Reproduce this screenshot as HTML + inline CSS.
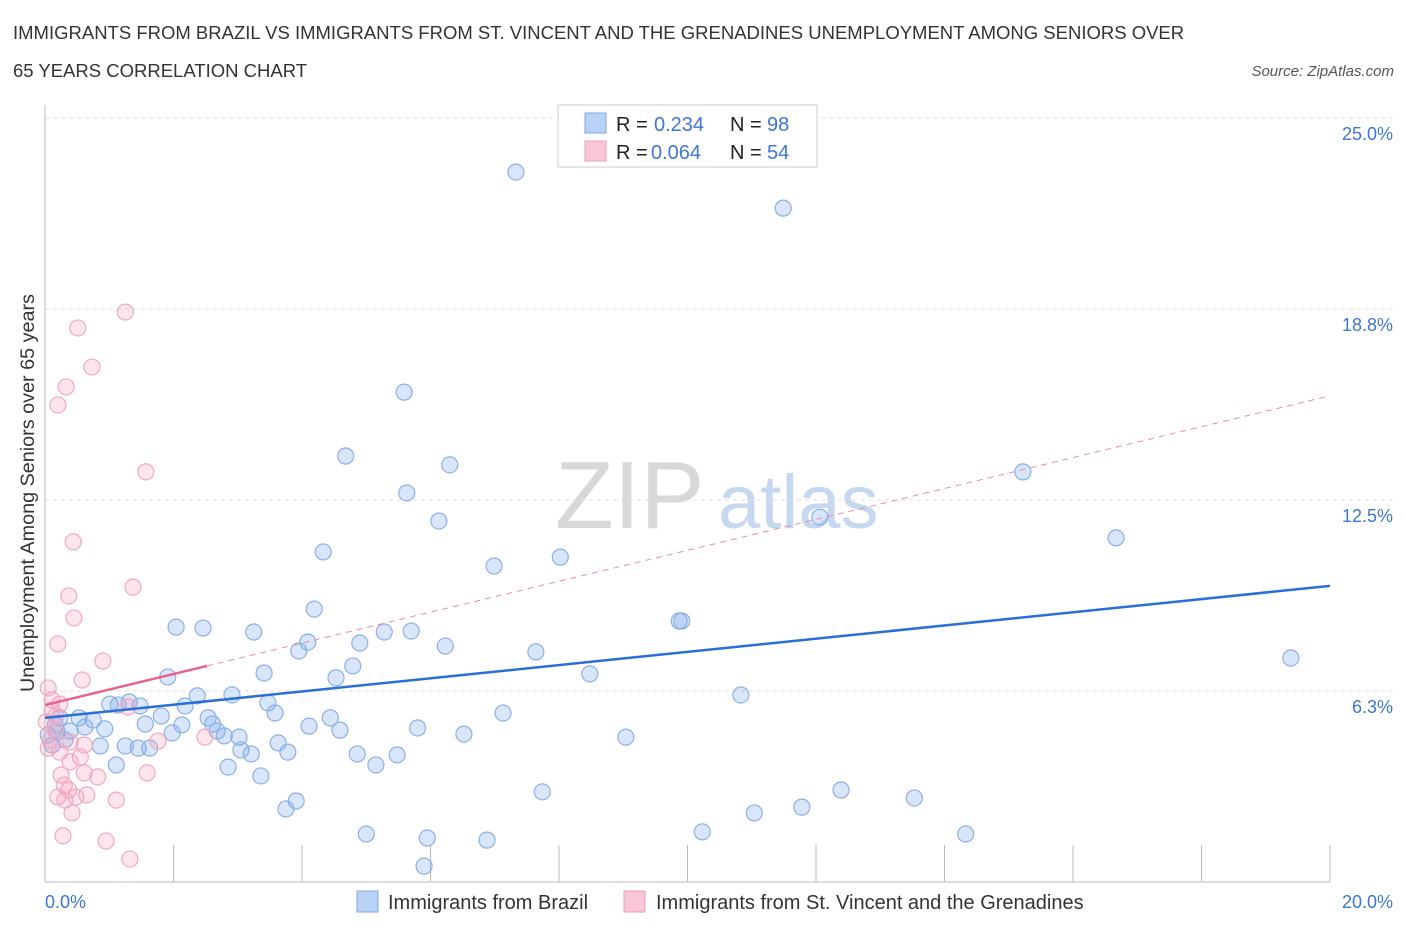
<!DOCTYPE html>
<html><head><meta charset="utf-8"><style>
body{margin:0;background:#fff;font-family:"Liberation Sans",sans-serif;}
svg text{font-family:"Liberation Sans",sans-serif;}
</style></head><body>
<svg id="chart" width="1406" height="930" xmlns="http://www.w3.org/2000/svg">
<text x="13" y="39" font-size="18.5" fill="#333">IMMIGRANTS FROM BRAZIL VS IMMIGRANTS FROM ST. VINCENT AND THE GRENADINES UNEMPLOYMENT AMONG SENIORS OVER</text>
<text x="13" y="77" font-size="18.5" fill="#333">65 YEARS CORRELATION CHART</text>
<text x="1394" y="76" font-size="15" font-style="italic" fill="#555" text-anchor="end">Source: ZipAtlas.com</text>
<g>
<text x="555" y="528" font-size="96" font-family="Liberation Serif" fill="#d8d8d8">ZIP</text>
<text x="718" y="528" font-size="76" fill="#c5d8f0">atlas</text>
</g>
<g id="grid"></g>
<g id="axes"></g>
<g id="marks"></g>
<text transform="translate(34,493) rotate(-90)" font-size="19.8" fill="#333" text-anchor="middle">Unemployment Among Seniors over 65 years</text>
<g>
<rect x="558" y="105" width="259" height="62" fill="#fff" stroke="#ccc"/>
<rect x="585" y="113" width="21" height="20" fill="#b8d1f5" stroke="#7fa6e3"/>
<rect x="585" y="141" width="21" height="20" fill="#f9c6d5" stroke="#ee9fb8"/>
<text x="616" y="131" font-size="20" fill="#222">R = </text><text x="654" y="131" font-size="20" fill="#3d76d6">0.234</text>
<text x="730" y="131" font-size="20" fill="#222">N = </text><text x="767" y="131" font-size="20" fill="#3d76d6">98</text>
<text x="616" y="159" font-size="20" fill="#222">R = </text><text x="651" y="159" font-size="20" fill="#3d76d6">0.064</text>
<text x="730" y="159" font-size="20" fill="#222">N = </text><text x="767" y="159" font-size="20" fill="#3d76d6">54</text>
</g>
<g>
<rect x="357" y="891" width="21" height="21" fill="#b8d1f5" stroke="#7fa6e3"/>
<text x="388" y="909" font-size="20" fill="#333">Immigrants from Brazil</text>
<rect x="624" y="891" width="21" height="21" fill="#f9c6d5" stroke="#ee9fb8"/>
<text x="656" y="909" font-size="20" fill="#333">Immigrants from St. Vincent and the Grenadines</text>
</g>
</svg>
<script>
const yTicks=[6.25,12.5,18.75,25];
const yTickLabels=["6.3%","12.5%","18.8%","25.0%"];
const xTickLabels=["0.0%","20.0%"];
const brazilX=[7.33,11.49,5.59,4.68,6.30,15.22,5.63,6.13,12.06,16.67,4.33,8.02,6.99,4.19,9.87,9.91,2.04,2.46,3.25,5.28,5.70,4.09,4.90,6.23,3.95,7.64,19.39,4.79,3.41,8.48,1.91,4.53,10.83,2.91,2.37,3.47,1.01,1.31,1.48,2.18,1.14,7.13,3.58,1.81,2.54,4.44,0.53,0.75,1.56,2.13,2.61,4.11,4.59,5.80,2.68,0.93,0.39,0.19,0.62,1.98,2.79,3.02,6.52,9.04,3.63,1.25,0.86,1.45,1.63,4.86,3.05,3.78,5.48,3.21,5.15,1.11,2.85,3.36,7.74,12.39,13.53,3.91,3.75,11.78,11.04,10.23,5.00,5.95,6.88,14.33,5.90,0.11,0.23,0.05,0.31,0.16];
const brazilY=[23.23,22.05,16.03,13.94,13.65,13.42,12.73,11.81,11.94,11.26,10.80,10.63,10.34,8.93,8.54,8.54,8.34,8.31,8.18,8.18,8.21,7.85,7.82,7.72,7.56,7.53,7.33,7.07,6.84,6.81,6.71,6.68,6.12,6.12,6.09,5.86,5.82,5.89,5.76,5.76,5.79,5.53,5.53,5.43,5.37,5.37,5.37,5.30,5.17,5.14,5.17,5.10,4.97,5.04,4.94,5.01,4.94,4.91,5.07,4.88,4.78,4.74,4.84,4.74,4.55,4.45,4.45,4.38,4.38,4.19,4.32,4.25,4.16,4.19,3.83,3.83,3.76,3.47,2.95,3.01,2.75,2.65,2.39,2.45,2.26,1.64,1.57,1.44,1.37,1.57,0.52,4.48,5.37,4.81,4.65,5.14];
const vincentX=[1.25,0.51,0.73,0.33,0.20,1.57,0.44,1.37,0.37,0.45,0.20,0.90,0.58,0.05,0.23,0.11,1.29,0.02,0.16,0.08,0.39,0.61,1.76,2.49,0.05,0.23,0.55,0.39,0.25,0.61,0.82,1.59,0.30,0.37,0.20,0.48,0.65,0.31,1.11,0.42,0.28,0.95,1.32,0.11,0.17];
const vincentY=[18.65,18.13,16.85,16.20,15.61,13.42,11.13,9.65,9.36,8.64,7.79,7.23,6.61,6.35,5.82,5.63,5.73,5.24,4.97,4.65,4.58,4.48,4.61,4.74,4.38,4.25,4.09,3.93,3.50,3.57,3.44,3.57,3.17,3.01,2.78,2.78,2.85,2.68,2.68,2.26,1.51,1.34,0.75,5.96,5.43];
const brazilTrend=[5.37,9.69];
const vincentTrend=[5.79,7.07,15.87];
const vincentTrendX=[0,2.52,19.92];

const X0=45,X1=1330,Y0=882,Y1=118;
const xs=v=>X0+(v/20)*(X1-X0);
const ys=v=>Y0-(v/25)*(Y0-Y1);
const NS="http://www.w3.org/2000/svg";
function mk(tag,attrs,parent){const e=document.createElementNS(NS,tag);for(const k in attrs)e.setAttribute(k,attrs[k]);parent.appendChild(e);return e;}
const grid=document.getElementById('grid'),axes=document.getElementById('axes'),marks=document.getElementById('marks');
yTicks.forEach((t,i)=>{
  const l=mk('line',{x1:X0,x2:1395,y1:ys(t),y2:ys(t),stroke:'#ddd','stroke-dasharray':'4,4'},grid);
  
  
  const tx=mk('text',{x:1393,y:ys(t)+22,'font-size':18,fill:'#3d76d6','text-anchor':'end'},axes);
  tx.textContent=yTickLabels[i];
  
  
});
const ax=mk('line',{x1:X0,x2:X1,y1:Y0,y2:Y0,stroke:'#bbb'},axes);


const ay=mk('line',{x1:X0,x2:X0,y1:105,y2:Y0,stroke:'#bbb'},axes);


for(let i=0;i<=10;i++){
  const t=mk('line',{x1:xs(i*2),x2:xs(i*2),y1:Y0,y2:Y0-37,stroke:'#bbb'},axes);
  
  
}
const xl0=mk('text',{x:X0,y:908,'font-size':18,fill:'#3d76d6'},axes);xl0.textContent=xTickLabels[0];


const xl1=mk('text',{x:1393,y:908,'font-size':18,fill:'#3d76d6','text-anchor':'end'},axes);xl1.textContent=xTickLabels[1];



brazilX.forEach((v,i)=>{
  const c=mk('circle',{cx:xs(v),cy:ys(brazilY[i]),r:8,fill:'rgba(120,165,235,0.28)',stroke:'#8ab0e6','stroke-width':1.2},marks);
  
  
});
vincentX.forEach((v,i)=>{
  const c=mk('circle',{cx:xs(v),cy:ys(vincentY[i]),r:8,fill:'rgba(245,160,190,0.28)',stroke:'#f0a9c0','stroke-width':1.2},marks);
  
  
});
const bl=mk('line',{x1:xs(0),y1:ys(brazilTrend[0]),x2:xs(20),y2:ys(brazilTrend[1]),stroke:'#2a6fd6','stroke-width':2.5},marks);


const vd=mk('line',{x1:xs(vincentTrendX[1]),y1:ys(vincentTrend[1]),x2:xs(vincentTrendX[2]),y2:ys(vincentTrend[2]),stroke:'#e88aa8','stroke-width':1,'stroke-dasharray':'6,5'},marks);


const vl=mk('line',{x1:xs(vincentTrendX[0]),y1:ys(vincentTrend[0]),x2:xs(vincentTrendX[1]),y2:ys(vincentTrend[1]),stroke:'#e8628c','stroke-width':2.5},marks);


</script>
</body></html>
